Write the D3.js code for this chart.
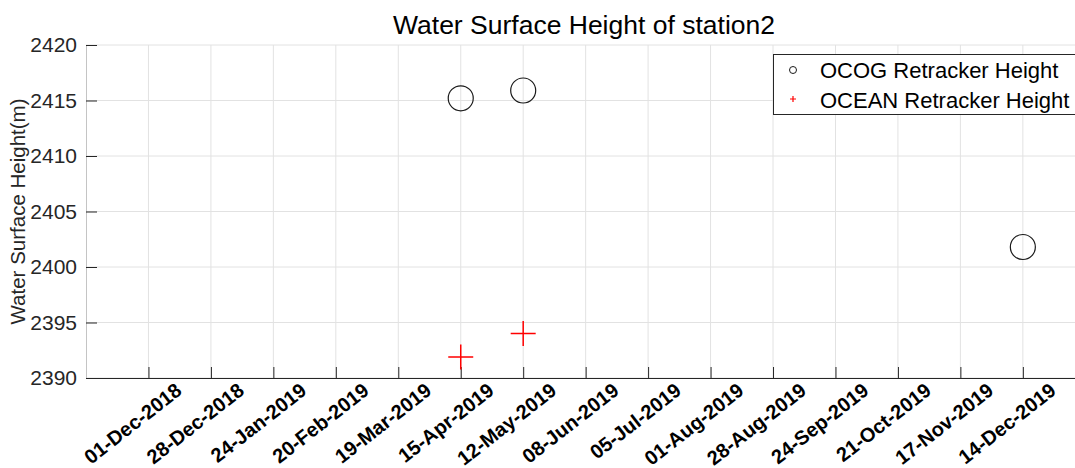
<!DOCTYPE html>
<html>
<head>
<meta charset="utf-8">
<script src="https://cdn.jsdelivr.net/npm/d3@7"></script>
<style>
  body { margin: 0; background: #fff; }
  svg { display: block; font-family: "Liberation Sans", Arial, sans-serif; }
</style>
</head>
<body>
<script>
// chart data
const ocogDates = ["2019-04-15", "2019-05-12", "2019-12-14"];
const ocogHeights = [2415.2, 2415.9, 2401.8];
const oceanDates = ["2019-04-15", "2019-05-12"];
const oceanHeights = [2391.9, 2394.0];
const yTicks = [2390, 2395, 2400, 2405, 2410, 2415, 2420];
const xTickStart = "2018-12-01", xTickStepDays = 27, xTickCount = 15;
const legendLabels = ["OCOG Retracker Height", "OCEAN Retracker Height"];

const width = 1075, height = 468;
const plotLeft = 86, plotTop = 45, plotBottom = 378;
const parse = d3.utcParse("%Y-%m-%d");
const fmt = d3.utcFormat("%d-%b-%Y");

const svg = d3.select("body").append("svg")
  .attr("width", width)
  .attr("height", height);

// scales
const x = d3.scaleUtc()
  .domain([parse("2018-11-04"), parse("2020-01-06")])
  .range([plotLeft, plotLeft + 428 * 2.3132]);
const y = d3.scaleLinear()
  .domain([2390, 2420])
  .range([plotBottom, plotTop]);

const xTicks = d3.range(xTickCount).map(i => d3.utcDay.offset(parse(xTickStart), i * xTickStepDays));

// grid
svg.append("g").selectAll("line")
  .data(xTicks)
  .join("line")
  .attr("x1", d => x(d)).attr("x2", d => x(d))
  .attr("y1", plotTop).attr("y2", plotBottom)
  .attr("stroke", "#e2e2e2");
svg.append("g").selectAll("line")
  .data(yTicks)
  .join("line")
  .attr("x1", plotLeft).attr("x2", width)
  .attr("y1", d => y(d)).attr("y2", d => y(d))
  .attr("stroke", "#e2e2e2");

// y axis
const yAxis = svg.append("g")
  .attr("transform", `translate(${plotLeft},0)`)
  .call(d3.axisLeft(y).tickValues(yTicks).tickSize(-11).tickPadding(9).tickFormat(d3.format("d")));
yAxis.select(".domain").attr("stroke", "#c4c4c4");
yAxis.selectAll(".tick line").attr("stroke", "#262626");
yAxis.selectAll(".tick text")
  .attr("fill", "#262626")
  .attr("font-size", 21)
  .attr("font-family", "Liberation Sans, Arial, sans-serif");

// x axis
const xAxis = svg.append("g")
  .attr("transform", `translate(0,${plotBottom})`)
  .call(d3.axisBottom(x).tickValues(xTicks).tickSize(-11).tickFormat(fmt));
xAxis.select(".domain").attr("stroke", "#262626").attr("d", `M${plotLeft},0.5H${width}`);
xAxis.selectAll(".tick line").attr("stroke", "#262626");
xAxis.selectAll(".tick text")
  .attr("fill", "#000")
  .attr("font-size", 20)
  .attr("font-weight", "bold")
  .attr("font-family", "Liberation Sans, Arial, sans-serif")
  .attr("text-anchor", "end")
  .attr("dy", null)
  .attr("y", null)
  .attr("transform", "translate(34,15) rotate(-38)");

// markers
svg.append("g").selectAll("circle")
  .data(ocogDates.map((d, i) => ({date: parse(d), h: ocogHeights[i]})))
  .join("circle")
  .attr("cx", d => x(d.date))
  .attr("cy", d => y(d.h))
  .attr("r", 12.5)
  .attr("fill", "none")
  .attr("stroke", "#1a1a1a")
  .attr("stroke-width", 1.2);

svg.append("g").selectAll("path")
  .data(oceanDates.map((d, i) => ({date: parse(d), h: oceanHeights[i]})))
  .join("path")
  .attr("d", d => {
    const cx = x(d.date), cy = y(d.h), s = 12.5;
    return `M${cx - s},${cy}H${cx + s}M${cx},${cy - s}V${cy + s}`;
  })
  .attr("stroke", "#ff0000")
  .attr("stroke-width", 1.5)
  .attr("fill", "none");

// title and labels
svg.append("text")
  .attr("x", 584).attr("y", 34)
  .attr("text-anchor", "middle")
  .attr("font-size", 26.5)
  .attr("fill", "#000")
  .text("Water Surface Height of station2");

svg.append("text")
  .attr("transform", `translate(25,${(plotTop + plotBottom) / 2}) rotate(-90)`)
  .attr("text-anchor", "middle")
  .attr("font-size", 20.5)
  .attr("fill", "#262626")
  .text("Water Surface Height(m)");

// legend
const legend = svg.append("g").attr("transform", "translate(773,54)");
legend.append("rect")
  .attr("x", 0.5).attr("y", 0.5)
  .attr("width", 320).attr("height", 60)
  .attr("fill", "#fff")
  .attr("stroke", "#262626");
legend.append("circle")
  .attr("cx", 20).attr("cy", 16)
  .attr("r", 3.5)
  .attr("fill", "none")
  .attr("stroke", "#1a1a1a");
legend.append("path")
  .attr("d", "M17,45H23M20,42V48")
  .attr("stroke", "#ff0000")
  .attr("stroke-width", 1.2);
legend.selectAll("text")
  .data(legendLabels)
  .join("text")
  .attr("x", 47)
  .attr("y", (d, i) => 24 + i * 30)
  .attr("font-size", 22)
  .attr("fill", "#000")
  .text(d => d);
</script>
</body>
</html>
